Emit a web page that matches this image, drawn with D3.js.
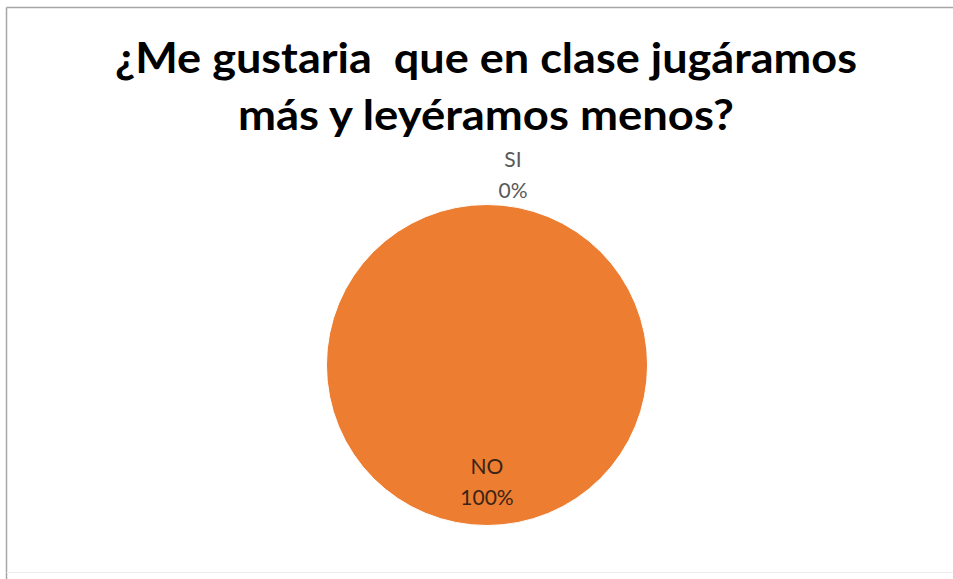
<!DOCTYPE html>
<html>
<head>
<meta charset="utf-8">
<script src="https://cdn.jsdelivr.net/npm/d3@7"></script>
<style>
  html, body { margin: 0; padding: 0; background: #ffffff; }
  svg { display: block; }
  text.title { white-space: pre; }
</style>
</head>
<body>
<svg id="chart" width="953" height="579"></svg>
<script>
const titleLines = ["¿Me gustaria  que en clase jugáramos", "más y leyéramos menos?"];
const categories = ["SI", "NO"];
const values = [0, 100];
const colors = ["#4472C4", "#ED7D31"];

const W = 953, H = 579;
const svg = d3.select("#chart");

// chart frame (cropped on right)
svg.append("line").attr("x1", 6.5).attr("x2", W).attr("y1", 7.5).attr("y2", 7.5)
  .attr("stroke", "#a6a6a6").attr("stroke-width", 1.5);
svg.append("line").attr("x1", 6.5).attr("x2", 6.5).attr("y1", 7.5).attr("y2", H)
  .attr("stroke", "#a6a6a6").attr("stroke-width", 1.5);
svg.append("line").attr("x1", 6.5).attr("x2", W).attr("y1", 572.5).attr("y2", 572.5)
  .attr("stroke", "#ececec").attr("stroke-width", 1);

// title
const titleX = 486;
const titleBaselines = [73, 130];
const titleWidths = [742, 496];
svg.selectAll("text.title").data(titleLines).enter().append("text")
  .attr("class", "title")
  .attr("xml:space", "preserve")
  .attr("x", titleX)
  .attr("y", (d, i) => titleBaselines[i])
  .attr("text-anchor", "middle")
  .attr("font-family", "Lato, 'Open Sans', sans-serif")
  .attr("font-weight", "bold")
  .attr("font-size", 42)
  .attr("fill", "#000000")
  .attr("textLength", (d, i) => titleWidths[i])
  .attr("lengthAdjust", "spacingAndGlyphs")
  .text(d => d);

// pie
const cx = 487, cy = 365, r = 160.5;
const data = categories.map((c, i) => ({ cat: c, value: values[i], color: colors[i] }));
const pie = d3.pie().sort(null).value(d => d.value);
const arcs = pie(data);
const arc = d3.arc().innerRadius(0).outerRadius(r);

const g = svg.append("g").attr("transform", `translate(${cx},${cy})`);
g.selectAll("path").data(arcs.filter(d => d.value > 0)).enter().append("path")
  .attr("d", arc)
  .attr("fill", d => d.data.color)
  .attr("stroke", "#ffffff")
  .attr("stroke-width", 1);

const total = d3.sum(values);
const insideArc = d3.arc().innerRadius(r * 0.71).outerRadius(r * 0.71);
const outsideArc = d3.arc().innerRadius(r + 33).outerRadius(r + 33);

arcs.forEach(d => {
  const pct = Math.round(d.value / total * 100) + "%";
  let x, y, fill;
  if (d.value === 0) {
    [x, y] = outsideArc.centroid(d);
    x += 26;
    fill = "#595959";
  } else {
    [x, y] = insideArc.centroid(d);
    fill = "#3b2415";
  }
  const t = g.append("text")
    .attr("text-anchor", "middle")
    .attr("font-family", "Lato, 'Open Sans', sans-serif")
    .attr("font-size", 21)
    .attr("fill", fill);
  t.append("tspan").attr("x", x).attr("y", y - 5).text(d.data.cat);
  t.append("tspan").attr("x", x).attr("y", y + 26).text(pct);
});
</script>
</body>
</html>
